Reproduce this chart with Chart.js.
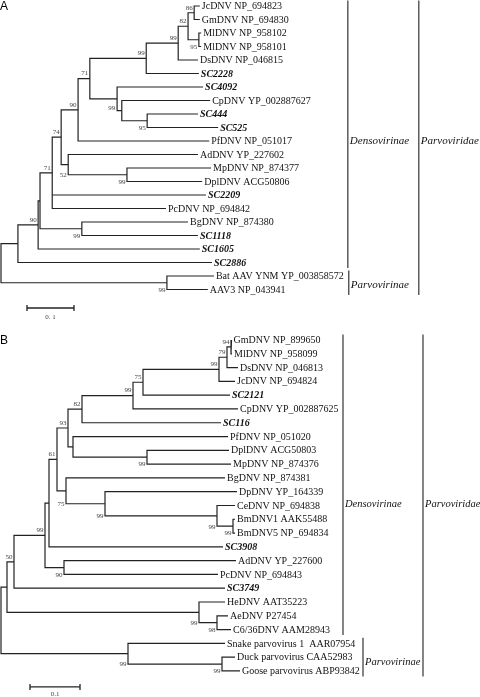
<!DOCTYPE html>
<html>
<head>
<meta charset="utf-8">
<script src="https://cdn.jsdelivr.net/npm/chart.js@4.4.1/dist/chart.umd.min.js"></script>
<style>
  html, body { margin: 0; padding: 0; background: #fff; }
  .panel { position: relative; width: 480px; }
  #wrapA { height: 330px; }
  #wrapB { height: 367px; }
</style>
</head>
<body>
<div class="panel" id="wrapA"><canvas id="treeA"></canvas></div>
<div class="panel" id="wrapB"><canvas id="treeB"></canvas></div>
<script>
// ============================================================
// TREE A — leaves (top to bottom), tip depth, internal nodes
// node kids: numbers = leaf index, 'nK' = internal node K
// ============================================================
const leavesA = ['JcDNV NP_694823', 'GmDNV NP_694830', 'MlDNV NP_958102', 'MlDNV NP_958101',
  'DsDNV NP_046815', 'SC2228', 'SC4092', 'CpDNV YP_002887627', 'SC444', 'SC525',
  'PfDNV NP_051017', 'AdDNV YP_227602', 'MpDNV NP_874377', 'DplDNV ACG50806', 'SC2209',
  'PcDNV NP_694842', 'BgDNV NP_874380', 'SC1118', 'SC1605', 'SC2886',
  'Bat AAV YNM YP_003858572', 'AAV3 NP_043941'];
const leafDepthA = [0.423, 0.423, 0.426, 0.426, 0.419, 0.421, 0.430, 0.445, 0.419, 0.462,
  0.443, 0.419, 0.447, 0.428, 0.436, 0.351, 0.398, 0.419, 0.423, 0.449, 0.453, 0.440];
const nodeDepthA = [0.411, 0.421, 0.398, 0.377, 0.309, 0.311, 0.257, 0.247, 0.189, 0.164,
  0.268, 0.143, 0.128, 0.109, 0.172, 0.083, 0.079, 0.036, 0.353, 0];
const nodeKidsA = [[0, 1], [2, 3], ['n0', 'n1'], ['n2', 4], ['n3', 5], [8, 9], [7, 'n5'],
  [6, 'n6'], ['n4', 'n7'], ['n8', 10], [12, 13], [11, 'n10'], ['n9', 'n11'], ['n12', 14, 15],
  [16, 17], ['n13', 'n14'], ['n15', 18], ['n16', 19], [20, 21], ['n17', 'n18']];
const supportA = ['86', '95', '82', '99', '99', '95', '99', '', '71', '90', '99', '52', '74',
  '71', '99', '', '90', '', '99', ''];
const groupNamesA = ['Densovirinae', 'Parvovirinae', 'Parvoviridae'];
const groupFromA = [0, 20, 0];
const groupToA = [19, 21, 21];

// ============================================================
// TREE B
// ============================================================
const leavesB = ['GmDNV NP_899650', 'MlDNV NP_958099', 'DsDNV NP_046813', 'JcDNV NP_694824',
  'SC2121', 'CpDNV YP_002887625', 'SC116', 'PfDNV NP_051020', 'DplDNV ACG50803',
  'MpDNV NP_874376', 'BgDNV NP_874381', 'DpDNV YP_164339', 'CeDNV NP_694838',
  'BmDNV1 AAK55488', 'BmDNV5 NP_694834', 'SC3908', 'AdDNV YP_227600', 'PcDNV NP_694843',
  'SC3749', 'HeDNV AAT35223', 'AeDNV P27454', 'C6/36DNV AAM28943',
  'Snake parvovirus 1  AAR07954', 'Duck parvovirus CAA52983', 'Goose parvovirus ABP93842'];
const leafDepthB = [0.461, 0.462, 0.474, 0.468, 0.458, 0.474, 0.440, 0.454, 0.456, 0.460,
  0.448, 0.472, 0.468, 0.468, 0.468, 0.444, 0.470, 0.434, 0.448, 0.448, 0.454, 0.460,
  0.448, 0.468, 0.478];
const nodeDepthB = [0.460, 0.452, 0.436, 0.284, 0.264, 0.162, 0.292, 0.144, 0.134, 0.464,
  0.432, 0.208, 0.130, 0.112, 0.096, 0.126, 0.088, 0.026, 0.432, 0.396, 0.012, 0.442, 0.254, 0];
const nodeKidsB = [[0, 1], ['n0', 2], ['n1', 3], ['n2', 4], ['n3', 5], ['n4', 6], [8, 9],
  [7, 'n6'], ['n5', 'n7'], [13, 14], [12, 'n9'], [11, 'n10'], [10, 'n11'], ['n8', 'n12'],
  ['n13', 15], [16, 17], ['n14', 'n15'], ['n16', 18], [20, 21], [19, 'n18'], ['n17', 'n19'],
  [23, 24], [22, 'n21'], ['n20', 'n22']];
const supportB = ['94', '79', '99', '75', '99', '82', '99', '', '93', '99', '99', '99', '75',
  '61', '', '90', '99', '50', '98', '99', '', '99', '99', ''];
const groupNamesB = ['Densovirinae', 'Parvovirinae', 'Parvoviridae'];
const groupFromB = [0, 22, 0];
const groupToB = [21, 24, 24];

// ============================================================
// Layout (where labels sit) — kept apart from the data
// a = above the node, b = by the lower kid, c = pushed left of parent
// ============================================================
const layoutA = {
  letter: 'A', leafFont: '10px "Liberation Serif"',
  xMin: -1 / 470, xMax: 479 / 470, yMin: -6 / 13.5, yMax: -6 / 13.5 + 330 / 13.5,
  supportSide: ['a', 'b', 'a', 'a', 'a', 'b', 'c', '', 'a', 'a', 'b', 'b', 'a', 'a', 'b', '', 'a', '', 'b', ''],
  groupX: [0.738, 0.740, 0.889], groupTextRow: [10, 20.67, 10], groupFont: 'italic 11px "Liberation Serif"',
  scaleFrom: 0.0553, scaleRow: 22.37, scaleLabel: '0. 1', scaleLabelRow: 23.05
};
const layoutB = {
  letter: 'B', leafFont: '10px "Liberation Serif"',
  xMin: -1 / 500, xMax: 479 / 500, yMin: -10 / 13.79, yMax: -10 / 13.79 + 367 / 13.79,
  supportSide: ['a', 'a', 'a', 'a', 'a', 'a', 'b', '', 'a', 'b', 'b', 'b', 'b', 'a', '', 'b', 'a', 'a', 'b', 'b', '', 'b', 'b', ''],
  groupX: [0.684, 0.724, 0.844], groupTextRow: [11.9, 23.4, 11.9], groupFont: 'italic 10.5px "Liberation Serif"',
  scaleFrom: 0.058, scaleRow: 25.16, scaleLabel: '0.1', scaleLabelRow: 25.67
};

const lineColor = '#222';

// ============================================================
// Node positions: y of a node = middle of its first and last kid
// ============================================================
function placeNodes(leafDepth, nodeDepth, nodeKids) {
  const nodes = [];
  const pos = (ref) => (typeof ref === 'number')
    ? { x: leafDepth[ref], y: ref }
    : nodes[Number(ref.slice(1))];
  nodeKids.forEach((kids, i) => {
    const first = pos(kids[0]);
    const last = pos(kids[kids.length - 1]);
    nodes[i] = { x: nodeDepth[i], y: (first.y + last.y) / 2, top: first.y, bottom: last.y };
  });
  return { nodes, pos };
}

function seg(points, width) {
  return {
    data: points, showLine: true, fill: false, borderColor: lineColor,
    borderWidth: width || 1.2, pointRadius: 0, pointHoverRadius: 0
  };
}

function buildTree(canvasId, leaves, leafDepth, nodeDepth, nodeKids, support,
  groupNames, groupFrom, groupTo, lay) {
  const { nodes, pos } = placeNodes(leafDepth, nodeDepth, nodeKids);
  const datasets = [];

  // branches: elbow from first kid to last kid, middle kids as single lines
  nodeKids.forEach((kids, i) => {
    const n = nodes[i];
    const first = pos(kids[0]);
    const last = pos(kids[kids.length - 1]);
    datasets.push(seg([
      { x: first.x, y: first.y }, { x: n.x, y: first.y },
      { x: n.x, y: last.y }, { x: last.x, y: last.y }
    ]));
    kids.slice(1, -1).forEach((k) => {
      const c = pos(k);
      datasets.push(seg([{ x: n.x, y: c.y }, { x: c.x, y: c.y }]));
    });
  });

  // group brackets on the right
  groupNames.forEach((g, i) => {
    datasets.push(seg([
      { x: lay.groupX[i], y: groupFrom[i] - 0.4 },
      { x: lay.groupX[i], y: groupTo[i] + 0.4 }
    ], 1.1));
  });

  // scale bar (0.1 substitutions per site)
  const s0 = lay.scaleFrom, s1 = lay.scaleFrom + 0.1, r = lay.scaleRow;
  datasets.push(seg([{ x: s0, y: r }, { x: s1, y: r }], 1.3));
  datasets.push(seg([{ x: s0, y: r - 0.22 }, { x: s0, y: r + 0.22 }], 1.3));
  datasets.push(seg([{ x: s1, y: r - 0.22 }, { x: s1, y: r + 0.22 }], 1.3));

  const treeText = {
    id: 'treeText',
    afterDatasetsDraw(chart) {
      const { ctx, scales: { x, y } } = chart;
      ctx.save();
      ctx.textBaseline = 'middle';

      // taxon names (own sequences in bold italic)
      ctx.textAlign = 'left';
      ctx.fillStyle = '#111';
      leaves.forEach((name, i) => {
        ctx.font = name.startsWith('SC') ? 'italic bold ' + lay.leafFont : lay.leafFont;
        ctx.fillText(name, x.getPixelForValue(leafDepth[i]) + 2, y.getPixelForValue(i) + 0.5);
      });

      // bootstrap values
      ctx.font = '7px "Liberation Serif"';
      ctx.fillStyle = '#444';
      ctx.textAlign = 'right';
      support.forEach((v, i) => {
        if (!v) return;
        const n = nodes[i];
        const side = lay.supportSide[i];
        let px = x.getPixelForValue(n.x) - 1.5;
        let py = y.getPixelForValue(n.y) - 5;
        if (side === 'b') py = y.getPixelForValue(n.bottom) + 0.5;
        if (side === 'c') { px -= 5; py += 2.5; }
        ctx.fillText(v, px, py);
      });

      // group names
      ctx.font = lay.groupFont;
      ctx.fillStyle = '#111';
      ctx.textAlign = 'left';
      groupNames.forEach((g, i) => {
        ctx.fillText(g, x.getPixelForValue(lay.groupX[i]) + 2, y.getPixelForValue(lay.groupTextRow[i]));
      });

      // scale label
      ctx.font = '7px "Liberation Serif"';
      ctx.fillStyle = '#444';
      ctx.textAlign = 'center';
      ctx.fillText(lay.scaleLabel, x.getPixelForValue(s0 + 0.05), y.getPixelForValue(lay.scaleLabelRow));

      // panel letter
      ctx.font = '12px "Liberation Sans"';
      ctx.fillStyle = '#000';
      ctx.textAlign = 'left';
      ctx.textBaseline = 'top';
      ctx.fillText(lay.letter, 0, lay.letter === 'A' ? 1 : 5);
      ctx.restore();
    }
  };

  return new Chart(document.getElementById(canvasId), {
    type: 'scatter',
    data: { datasets },
    options: {
      responsive: true,
      maintainAspectRatio: false,
      animation: false,
      layout: { padding: 0 },
      plugins: { legend: { display: false }, tooltip: { enabled: false } },
      scales: {
        x: { type: 'linear', display: false, min: lay.xMin, max: lay.xMax },
        y: { type: 'linear', display: false, reverse: true, min: lay.yMin, max: lay.yMax }
      }
    },
    plugins: [treeText]
  });
}

buildTree('treeA', leavesA, leafDepthA, nodeDepthA, nodeKidsA, supportA,
  groupNamesA, groupFromA, groupToA, layoutA);
buildTree('treeB', leavesB, leafDepthB, nodeDepthB, nodeKidsB, supportB,
  groupNamesB, groupFromB, groupToB, layoutB);
</script>
</body>
</html>
